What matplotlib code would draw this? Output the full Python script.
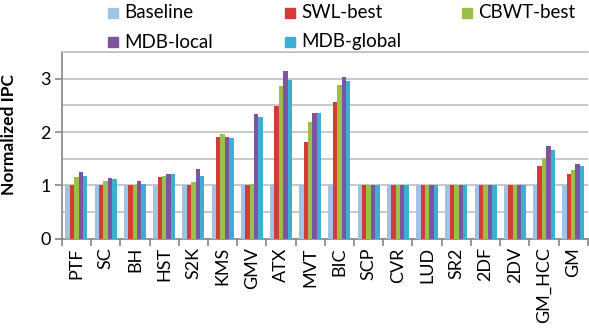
import numpy as np
import matplotlib.pyplot as plt
from matplotlib.patches import Rectangle
from matplotlib.ticker import MultipleLocator, FixedLocator

plt.rcParams['font.family'] = ['Lato', 'DejaVu Sans']

benchmarks = ['PTF', 'SC', 'BH', 'HST', 'S2K', 'KMS', 'GMV', 'ATX', 'MVT',
              'BIC', 'SCP', 'CVR', 'LUD', 'SR2', '2DF', '2DV', 'GM_HCC', 'GM']

baseline   = [1.00] * 18
swl_best   = [1.00, 1.00, 1.00, 1.16, 1.00, 1.91, 1.00, 2.49, 1.82,
              2.57, 1.00, 1.00, 1.00, 1.00, 1.00, 1.00, 1.37, 1.22]
cbwt_best  = [1.16, 1.08, 1.01, 1.18, 1.07, 1.96, 1.02, 2.86, 2.19,
              2.89, 1.00, 1.00, 1.00, 1.00, 1.00, 1.00, 1.51, 1.29]
mdb_local  = [1.25, 1.14, 1.08, 1.22, 1.30, 1.90, 2.34, 3.15, 2.36,
              3.03, 1.00, 1.00, 1.00, 1.00, 1.00, 1.00, 1.73, 1.41]
mdb_global = [1.18, 1.12, 1.03, 1.22, 1.18, 1.89, 2.29, 2.97, 2.35,
              2.96, 1.00, 1.00, 1.00, 1.00, 1.00, 1.00, 1.67, 1.37]

series = [('Baseline', baseline, '#9dc3e6'),
          ('SWL-best', swl_best, '#d33b35'),
          ('CBWT-best', cbwt_best, '#9bc04a'),
          ('MDB-local', mdb_local, '#7b55a0'),
          ('MDB-global', mdb_global, '#3bb0d0')]

W, H = 589, 335
fig = plt.figure(figsize=(W / 100, H / 100), dpi=100)
ax = fig.add_axes([0.105, 0.287, 0.893, 0.558])

x = np.arange(len(benchmarks))
w = 0.15
for i, (name, vals, col) in enumerate(series):
    ax.bar(x + (i - 2) * w, vals, w, color=col, label=name, zorder=3)

ax.set_xlim(-0.5, len(benchmarks) - 0.5)
ax.set_ylim(0, 3.5)
ax.yaxis.set_major_locator(FixedLocator([0, 1, 2, 3]))
ax.yaxis.set_minor_locator(MultipleLocator(0.5))
ax.grid(axis='y', which='both', color='#c0c0c0', lw=1.2, zorder=0)
ax.tick_params(axis='y', which='minor', length=0)
ax.tick_params(axis='y', which='major', length=5, width=1.2, color='#868686',
               labelsize=13, pad=3)

ax.set_xticks(x)
ax.set_xticklabels(benchmarks, rotation=90, fontsize=13)
ax.set_xticks(np.arange(len(benchmarks) + 1) - 0.5, minor=True)
ax.tick_params(axis='x', which='major', length=0, pad=6)
ax.tick_params(axis='x', which='minor', length=5, width=1.2, color='#868686')

ax.spines['right'].set_visible(False)
ax.spines['top'].set_color('#c0c0c0')
ax.spines['top'].set_linewidth(1.2)
for s in ['left', 'bottom']:
    ax.spines[s].set_color('#868686')
    ax.spines[s].set_linewidth(1.2)

ax.set_ylabel('Normalized IPC', fontsize=12.5, fontweight='bold')
ax.yaxis.set_label_coords(-0.086, 0.556)

# legend drawn by hand, row by row (pixel positions from the top-left)
slots = [(108, 13), (285, 13), (462, 13), (108, 42), (285, 42)]
for (name, _, col), (lx, ly) in zip(series, slots):
    fig.add_artist(Rectangle((lx / W, (H - ly - 5) / H), 10 / W, 10 / H,
                             transform=fig.transFigure, color=col))
    fig.text((lx + 16) / W, (H - ly) / H, name, fontsize=13.5, va='center',
             ha='left')

fig.savefig('out.png', dpi=100)
